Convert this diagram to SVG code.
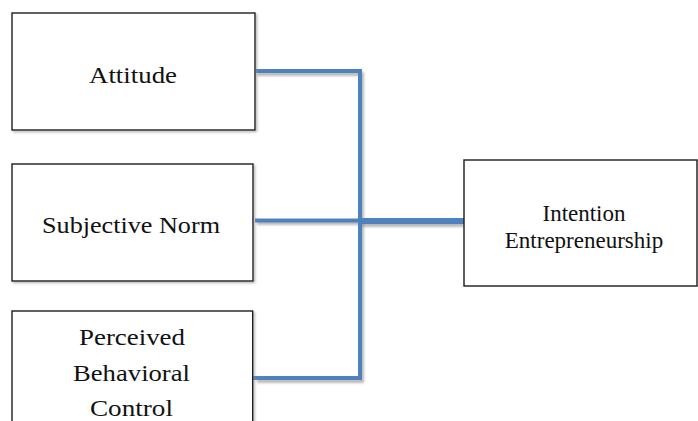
<svg xmlns="http://www.w3.org/2000/svg" width="698" height="421" viewBox="0 0 698 421">
<style>
.box{fill:#fff;stroke:#1a1a1a;stroke-width:1.4}
.t{font-family:"Liberation Serif","Times New Roman",serif;fill:#111;text-anchor:middle}
.l{font-size:23px}
.r{font-size:23px}
.c{fill:none;stroke:#4F81BD;stroke-linejoin:miter;stroke-linecap:butt}
.s{fill:none;stroke:#8c8c8c;stroke-opacity:0.6;stroke-linecap:butt}
</style>
<defs>
<filter id="blur" x="-10%" y="-10%" width="120%" height="120%"><feGaussianBlur stdDeviation="1.2"/></filter>
<filter id="bsh" x="-5%" y="-5%" width="110%" height="110%"><feDropShadow dx="1.5" dy="1.5" stdDeviation="1" flood-color="#888" flood-opacity="0.6"/></filter>
</defs>
<g id="connectors">
<g filter="url(#blur)">
<path class="s" stroke-width="4" d="M257,74 H362 V381 H257"/>
<path class="s" stroke-width="4" d="M257,223 H362"/>
<path class="s" stroke-width="6" d="M362,224 H464"/>
</g>
<path class="c" stroke-width="4" d="M256,71 H360 V378 H253"/>
<path class="c" stroke-width="4" d="M255,220.5 H360"/>
<path class="c" stroke-width="6" d="M360,221 H464"/>
</g>
<g id="attitude">
<rect class="box" x="12" y="13" width="243" height="117" filter="url(#bsh)"/>
<text class="t l" x="133" y="83" textLength="88" lengthAdjust="spacingAndGlyphs">Attitude</text>
</g>
<g id="subjective-norm">
<rect class="box" x="12" y="164" width="241" height="117" filter="url(#bsh)"/>
<text class="t l" x="131" y="233" textLength="178" lengthAdjust="spacingAndGlyphs">Subjective Norm</text>
</g>
<g id="pbc">
<rect class="box" x="12" y="311" width="240.7" height="130" filter="url(#bsh)"/>
<text class="t l" x="132" y="345" textLength="106" lengthAdjust="spacingAndGlyphs">Perceived</text>
<text class="t l" x="131.5" y="381" textLength="117" lengthAdjust="spacingAndGlyphs">Behavioral</text>
<text class="t l" x="131.5" y="416" textLength="83" lengthAdjust="spacingAndGlyphs">Control</text>
</g>
<g id="intention">
<rect class="box" x="464" y="160" width="233" height="126"/>
<text class="t r" x="584" y="221">Intention</text>
<text class="t r" x="584" y="248">Entrepreneurship</text>
</g>
</svg>
